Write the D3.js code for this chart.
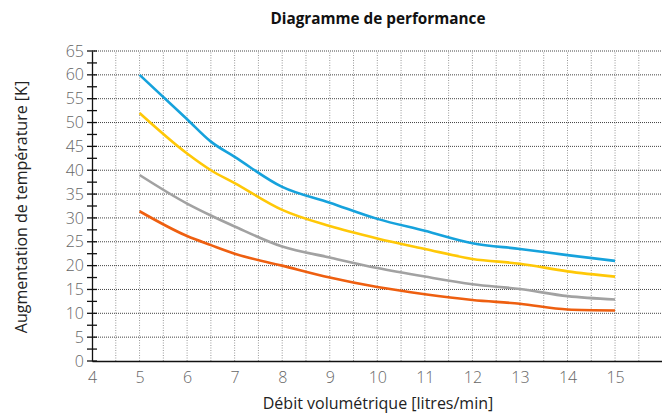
<!DOCTYPE html>
<html><head><meta charset="utf-8">
<script src="https://cdn.jsdelivr.net/npm/d3@7"></script>
<style>
body{margin:0;background:#fff;}
svg{display:block;font-family:"Open Sans",sans-serif;}
</style></head>
<body>
<script>
const flow = [5, 6, 6.5, 7, 8, 9, 10, 11, 12, 13, 14, 15];
const blueSeries   = [60, 50.7, 46, 42.8, 36.5, 33.2, 29.8, 27.3, 24.7, 23.5, 22.2, 21];
const yellowSeries = [52, 43.5, 40, 37.3, 31.7, 28.3, 25.7, 23.5, 21.4, 20.4, 18.8, 17.7];
const graySeries   = [39, 33, 30.5, 28.2, 24, 21.7, 19.5, 17.7, 16.1, 15.1, 13.6, 12.9];
const orangeSeries = [31.4, 26.2, 24.3, 22.5, 20, 17.5, 15.5, 14, 12.8, 12, 10.8, 10.6];
const xTicks = [4,5,6,7,8,9,10,11,12,13,14,15];
const yTicks = [0,5,10,15,20,25,30,35,40,45,50,55,60,65];

const W = 662, H = 414;
const svg = d3.select("body").append("svg").attr("width", W).attr("height", H);
const x = d3.scaleLinear().domain([4, 16]).range([92, 662.6]);
const y = d3.scaleLinear().domain([0, 65]).range([361, 51]);

// vertical grid (every 0.5)
const vg = d3.range(4.5, 15.51, 0.5);
svg.append("g").selectAll("line").data(vg).join("line")
  .attr("x1", d => x(d)).attr("x2", d => x(d))
  .attr("y1", y(0)).attr("y2", y(65))
  .attr("stroke", "#999").attr("stroke-width", 1).attr("stroke-dasharray", "1,1.5");
// horizontal grid
svg.append("g").selectAll("line").data(yTicks.filter(d => d > 0)).join("line")
  .attr("x1", x(4)).attr("x2", W)
  .attr("y1", d => y(d)).attr("y2", d => y(d))
  .attr("stroke", "#444").attr("stroke-width", 1).attr("stroke-dasharray", "1,1");

// series
const series = [
  {v: orangeSeries, c: "#ee5f10"},
  {v: graySeries, c: "#a2a2a2"},
  {v: yellowSeries, c: "#ffc807"},
  {v: blueSeries, c: "#16a2dc"}
];
const line = d3.line().x((d,i) => x(flow[i])).y(d => y(d)).curve(d3.curveMonotoneX);
svg.append("g").selectAll("path").data(series).join("path")
  .attr("d", d => line(d.v)).attr("fill", "none")
  .attr("stroke", d => d.c).attr("stroke-width", 2.6);

// y axis
const yAxis = svg.append("g").attr("transform", `translate(${x(4)},0)`)
  .call(d3.axisLeft(y).tickValues(yTicks).tickSize(0).tickPadding(8));
yAxis.select(".domain").attr("stroke", "#111").attr("stroke-width", 1.3);
yAxis.selectAll("text").attr("font-size", 16).attr("fill", "#666").attr("font-weight", 300)
  .attr("font-family", "'Open Sans', sans-serif");
// ticks crossing axis
const allY = d3.range(0, 65.1, 2.5);
svg.append("g").selectAll("line").data(allY).join("line")
  .attr("x1", x(4) - 5).attr("x2", x(4) + 5)
  .attr("y1", d => y(d)).attr("y2", d => y(d))
  .attr("stroke", "#111").attr("stroke-width", 1.3);

// x axis
const xAxis = svg.append("g").attr("transform", `translate(0,${y(0)})`)
  .call(d3.axisBottom(x).tickValues(xTicks).tickSize(0).tickPadding(11).tickFormat(d3.format("d")));
xAxis.select(".domain").attr("stroke", "#111").attr("stroke-width", 1.3);
xAxis.selectAll("text").attr("font-size", 16).attr("fill", "#666").attr("font-weight", 300)
  .attr("font-family", "'Open Sans', sans-serif");

// titles
svg.append("text").attr("x", 378).attr("y", 24).attr("text-anchor", "middle")
  .attr("font-size", 15.3).attr("font-weight", 700).attr("fill", "#111")
  .text("Diagramme de performance");
svg.append("text").attr("x", 378).attr("y", 409).attr("text-anchor", "middle")
  .attr("font-size", 16).attr("fill", "#222")
  .text("Débit volumétrique [litres/min]");
svg.append("text").attr("transform", "translate(27,207) rotate(-90)").attr("text-anchor", "middle")
  .attr("font-size", 16).attr("fill", "#222")
  .text("Augmentation de température [K]");
</script>
</body></html>
